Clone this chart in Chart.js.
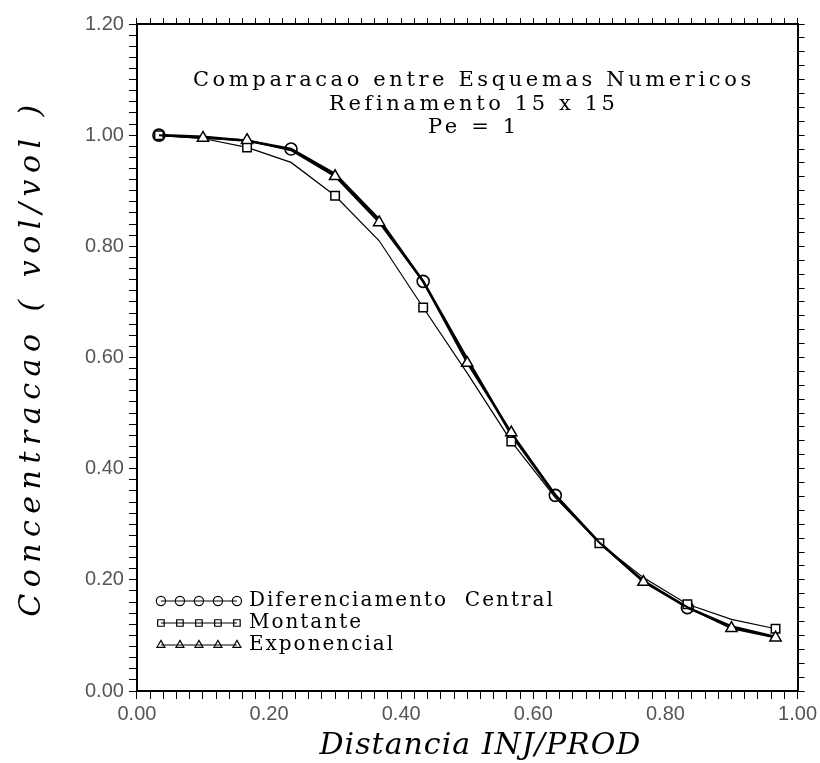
<!DOCTYPE html>
<html>
<head>
<meta charset="utf-8">
<script src="https://cdn.jsdelivr.net/npm/chart.js@4.4.0/dist/chart.umd.min.js"></script>
<style>
  html, body { margin: 0; background: #fff; }
  #wrap { width: 820px; height: 763px; }
</style>
</head>
<body>
<div id="wrap"><canvas id="chart"></canvas></div>
<script>
// Concentration profile along the injector/producer line, 15 x 15 grid, Pe = 1.
const distance = [0.0333, 0.1, 0.1667, 0.2333, 0.3, 0.3667, 0.4333, 0.5, 0.5667, 0.6333, 0.7, 0.7667, 0.8333, 0.9, 0.9667];
const central = [1.0, 0.997, 0.99, 0.975, 0.93, 0.848, 0.737, 0.597, 0.462, 0.352, 0.267, 0.198, 0.15, 0.116, 0.097];
const montante = [1.0, 0.994, 0.978, 0.951, 0.891, 0.81, 0.69, 0.572, 0.449, 0.348, 0.266, 0.204, 0.156, 0.129, 0.112];
const exponencial = [1.0, 0.995, 0.991, 0.973, 0.926, 0.843, 0.737, 0.59, 0.465, 0.353, 0.267, 0.196, 0.151, 0.113, 0.096];

// which samples carry a symbol
const centralMarks = [0, 3, 6, 9, 12];
const montanteMarks = [0, 2, 4, 6, 8, 10, 12, 14];
const exponencialMarks = [1, 2, 4, 5, 7, 8, 11, 13, 14];

const titleLines = ['Comparacao entre Esquemas Numericos', 'Refinamento 15 x 15', 'Pe = 1'];
const seriesNames = ['Diferenciamento  Central', 'Montante', 'Exponencial'];
const xTitle = 'Distancia INJ/PROD';
const yTitle = 'Concentracao ( vol/vol )';

const serif = '"DejaVu Serif", serif';

function pts(ys) {
  return distance.map((x, i) => ({ x, y: ys[i] }));
}

function markRadius(marks, r) {
  return (ctx) => (marks.includes(ctx.dataIndex) ? r : 0);
}

const isMajor = (v) => Math.abs(v * 5 - Math.round(v * 5)) < 1e-6;

// title block, axis titles and a hand-made legend (5 symbols strung on a line)
const annotations = {
  id: 'annotations',
  afterDraw(chart) {
    const { ctx, chartArea: a } = chart;
    ctx.save();
    ctx.fillStyle = '#000';
    ctx.textAlign = 'center';
    ctx.textBaseline = 'middle';

    ctx.font = '21px ' + serif;
    ctx.letterSpacing = '3.6px';
    const cx = a.left + a.width * 0.51;
    titleLines.forEach((t, i) => ctx.fillText(t, cx, a.top + 57 + i * 23.5));

    // axis titles
    ctx.font = 'italic 30px ' + serif;
    ctx.letterSpacing = '1px';
    ctx.fillText(xTitle, a.left + a.width * 0.52, a.bottom + 55);
    ctx.save();
    ctx.translate(32, (a.top + a.bottom) / 2);
    ctx.rotate(-Math.PI / 2);
    ctx.letterSpacing = '6.5px';
    ctx.fillText(yTitle, 0, 0);
    ctx.restore();

    // legend
    ctx.textAlign = 'left';
    ctx.font = '20px ' + serif;
    ctx.letterSpacing = '2px';
    const x0 = a.left + 24;
    const order = [2, 1, 0]; // rows: central, montante, exponencial
    order.forEach((di, row) => {
      const ds = chart.data.datasets[di];
      const y = a.top + 577 + row * 22;
      ctx.strokeStyle = '#000';
      ctx.lineWidth = 1.2;
      ctx.beginPath();
      ctx.moveTo(x0, y);
      ctx.lineTo(x0 + 76, y);
      ctx.stroke();
      for (let k = 0; k < 5; k++) {
        ctx.fillStyle = 'rgba(255,255,255,0)';
        Chart.helpers.drawPoint(ctx, {
          pointStyle: ds.pointStyle, radius: 4.6, rotation: 0, borderWidth: 1.3
        }, x0 + k * 19, y);
      }
      ctx.fillStyle = '#000';
      ctx.fillText(ds.label, x0 + 88, y);
    });
    ctx.restore();
  }
};

const minorTicks = (len) => ({ drawOnChartArea: false, tickLength: len, tickColor: '#000', tickWidth: 1 });
const axisBorder = { color: '#000', width: 2 };
const tickFont = { family: '"Liberation Sans", sans-serif', size: 20 };

new Chart(document.getElementById('chart'), {
  type: 'line',
  data: {
    datasets: [
      {
        label: seriesNames[2], data: pts(exponencial), borderColor: '#000', borderWidth: 2,
        pointStyle: 'triangle', pointRadius: markRadius(exponencialMarks, 6.5),
        pointBackgroundColor: '#fff', pointBorderColor: '#000', pointBorderWidth: 1.5
      },
      {
        label: seriesNames[1], data: pts(montante), borderColor: '#000', borderWidth: 1.2,
        pointStyle: 'rect', pointRadius: markRadius(montanteMarks, 6),
        pointBackgroundColor: '#fff', pointBorderColor: '#000', pointBorderWidth: 1.5
      },
      {
        label: seriesNames[0], data: pts(central), borderColor: '#000', borderWidth: 2.6,
        pointStyle: 'circle', pointRadius: markRadius(centralMarks, 6),
        pointBackgroundColor: 'rgba(255,255,255,0)', pointBorderColor: '#000', pointBorderWidth: 1.6
      }
    ]
  },
  options: {
    responsive: true,
    maintainAspectRatio: false,
    animation: false,
    layout: { padding: { top: 18, right: 7, left: 80, bottom: 34 } },
    plugins: { legend: { display: false }, tooltip: { enabled: false } },
    elements: { line: { tension: 0 } },
    scales: {
      x: {
        type: 'linear', position: 'bottom', min: 0, max: 1,
        ticks: {
          stepSize: 0.02, autoSkip: false, maxTicksLimit: 200, maxRotation: 0, padding: 3,
          color: '#555', font: tickFont,
          callback: (v) => (isMajor(v) ? v.toFixed(2) : '')
        },
        grid: minorTicks(8),
        border: axisBorder
      },
      x2: {
        type: 'linear', position: 'top', min: 0, max: 1,
        ticks: { display: false, stepSize: 0.02, autoSkip: false, maxTicksLimit: 200 },
        grid: minorTicks(6),
        border: axisBorder
      },
      y: {
        type: 'linear', position: 'left', min: 0, max: 1.2,
        ticks: {
          stepSize: 0.02, autoSkip: false, maxTicksLimit: 200, padding: 5,
          color: '#555', font: tickFont,
          callback: (v) => (isMajor(v) ? v.toFixed(2) : '')
        },
        grid: minorTicks(8),
        border: axisBorder
      },
      y2: {
        type: 'linear', position: 'right', min: 0, max: 1.2,
        ticks: { display: false, stepSize: 0.025, autoSkip: false, maxTicksLimit: 200 },
        grid: minorTicks(7),
        border: axisBorder
      }
    }
  },
  plugins: [annotations]
});
</script>
</body>
</html>
